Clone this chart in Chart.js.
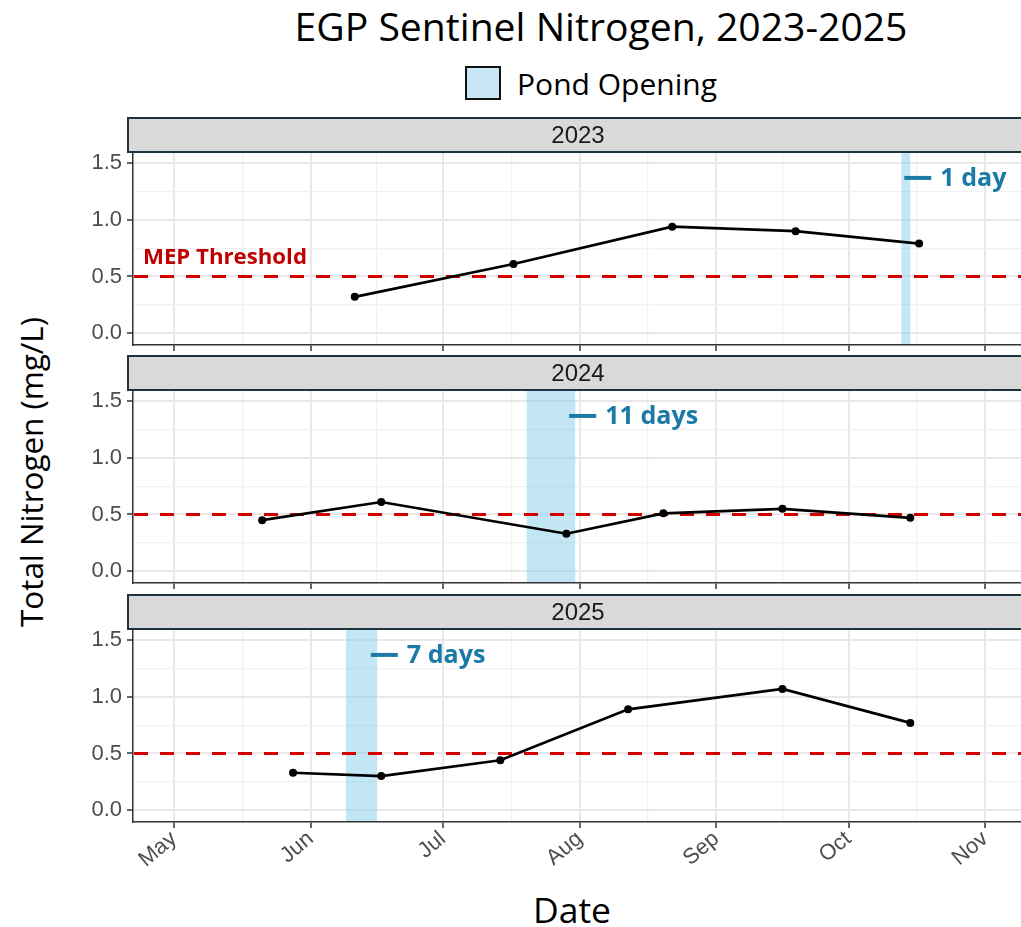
<!DOCTYPE html>
<html>
<head>
<meta charset="utf-8">
<script src="https://cdn.jsdelivr.net/npm/chart.js@4.4.0/dist/chart.umd.min.js"></script>
<style>
  body { margin: 0; background: #fff; }
  #page { position: relative; width: 1021px; height: 927px; overflow: hidden; background: #fff; }
  .txt { position: absolute; white-space: nowrap; color: #000; line-height: 1; }
  #legBox { position: absolute; left: 465px; top: 66px; width: 36px; height: 34px; box-sizing: border-box;
            border: 2px solid #111; background: #c8e7f5; }
  canvas.panel { position: absolute; left: 0; }
</style>
</head>
<body>
<div id="page">
  <div id="title" class="txt">EGP Sentinel Nitrogen, 2023-2025</div>
  <div id="legBox"></div>
  <div id="legText" class="txt">Pond Opening</div>
  <div id="yTitle" class="txt">Total Nitrogen (mg/L)</div>
  <div id="xTitle" class="txt">Date</div>
  <canvas id="c2023" class="panel"></canvas>
  <canvas id="c2024" class="panel"></canvas>
  <canvas id="c2025" class="panel"></canvas>
</div>
<script>
// data (dates as MM-DD, nitrogen in mg/L)
const years = ['2023', '2024', '2025'];
const dates2023 = ['06-11', '07-17', '08-22', '09-19', '10-17'];
const tn2023 = [0.32, 0.61, 0.94, 0.90, 0.79];
const dates2024 = ['05-21', '06-17', '07-29', '08-20', '09-16', '10-15'];
const tn2024 = [0.45, 0.61, 0.33, 0.51, 0.55, 0.47];
const dates2025 = ['05-28', '06-17', '07-14', '08-12', '09-16', '10-15'];
const tn2025 = [0.33, 0.30, 0.44, 0.89, 1.07, 0.77];

// pond opening periods
const openStart = ['10-13', '07-20', '06-09'];
const openEnd = ['10-15', '07-31', '06-16'];
const openLabels = ['1 day', '11 days', '7 days'];

const threshold = 0.5;
const monthLabels = ['May', 'Jun', 'Jul', 'Aug', 'Sep', 'Oct', 'Nov'];
const monthStarts = ['05-01', '06-01', '07-01', '08-01', '09-01', '10-01', '11-01'];
const yTickValues = [0, 0.5, 1.0, 1.5];

const panelDates = [dates2023, dates2024, dates2025];
const panelValues = [tn2023, tn2024, tn2025];

// layout
const panelTops = [117, 355, 594];
const STRIP_H = 36;
const PLOT_H = 192;
const STRIP_LEFT = 128;
const CANVAS_W = 1040;
const X_MIN = 111.7, X_MAX = 314.7;
const Y_MIN = -0.105, Y_MAX = 1.59;

const cumDays = [0, 31, 59, 90, 120, 151, 181, 212, 243, 273, 304, 334];
function dayOfYear(mmdd) {
    const [m, d] = mmdd.split('-').map(Number);
    return cumDays[m - 1] + d;
}

const majorX = monthStarts.map(dayOfYear);
const minorX = majorX.slice(1).map((v, k) => (v + majorX[k]) / 2);
const allX = majorX.concat(minorX).sort((a, b) => a - b);
const minorY = yTickValues.slice(1).map((v, k) => (v + yTickValues[k]) / 2);
const allY = yTickValues.concat(minorY).sort((a, b) => a - b);

const isMajorX = v => majorX.includes(v);
const isMajorY = v => yTickValues.some(t => Math.abs(t - v) < 1e-9);

// measure text so the html titles get the same width as in the picture
const meas = document.createElement('canvas').getContext('2d');
function fitSize(text, weight, family, width) {
    meas.font = weight + ' 100px ' + family;
    return 100 * width / meas.measureText(text).width;
}
function placeText(id, cx, cy, width, weight, family, rotate) {
    const el = document.getElementById(id);
    const size = fitSize(el.textContent, weight, family, width);
    el.style.font = weight + ' ' + size.toFixed(2) + 'px ' + family;
    el.style.left = cx + 'px';
    el.style.top = cy + 'px';
    el.style.transform = 'translate(-50%, -50%)' + (rotate ? ' rotate(-90deg)' : '');
}

const SANS = '"Open Sans", sans-serif';
const TICK_FONT = { family: '"Liberation Sans", Arial, sans-serif', size: 22 };
placeText('title', 601, 25, 613, 'normal', SANS);
placeText('legText', 617, 83, 200, 'normal', SANS);
placeText('yTitle', 30, 472, 310, 'normal', SANS, true);
placeText('xTitle', 572, 909, 78, 'normal', SANS);

const labelFont = fitSize('11 days', 'bold', SANS, 93);
const mepFont = fitSize('MEP Threshold', 'bold', SANS, 164);

// strip header, pond opening band, threshold line and labels
const panelDecor = {
    id: 'panelDecor',
    beforeDraw(chart, args, opts) {
        const ctx = chart.ctx, a = chart.chartArea;
        const top = a.top - STRIP_H;
        ctx.save();
        ctx.fillStyle = '#d9d9d9';
        ctx.fillRect(STRIP_LEFT, top + 1, chart.width, STRIP_H - 2);
        ctx.strokeStyle = '#1e3340';
        ctx.lineWidth = 2;
        ctx.strokeRect(STRIP_LEFT, top + 1, chart.width, STRIP_H - 2);
        ctx.fillStyle = '#1a1a1a';
        ctx.font = '24px "Liberation Sans", Arial, sans-serif';
        ctx.textAlign = 'center';
        ctx.textBaseline = 'middle';
        ctx.fillText(years[opts.index], (STRIP_LEFT + a.right) / 2, top + STRIP_H / 2 + 1);
        ctx.restore();
    },
    beforeDatasetsDraw(chart, args, opts) {
        const i = opts.index;
        const ctx = chart.ctx, a = chart.chartArea;
        const xs = chart.scales.x, ys = chart.scales.y;
        ctx.save();
        // pond opening
        const x0 = xs.getPixelForValue(dayOfYear(openStart[i]));
        const x1 = xs.getPixelForValue(dayOfYear(openEnd[i]));
        ctx.fillStyle = 'rgba(135, 206, 235, 0.5)';
        ctx.fillRect(x0, a.top, x1 - x0, a.bottom - a.top - 1);
        // threshold
        const ty = ys.getPixelForValue(threshold);
        ctx.strokeStyle = '#d40000';
        ctx.lineWidth = 3;
        ctx.setLineDash([14, 12]);
        ctx.beginPath();
        ctx.moveTo(a.left + 1, ty);
        ctx.lineTo(a.right, ty);
        ctx.stroke();
        ctx.setLineDash([]);
        if (i === 0) {
            ctx.fillStyle = '#c00000';
            ctx.font = 'bold ' + mepFont.toFixed(2) + 'px ' + SANS;
            ctx.textBaseline = 'alphabetic';
            ctx.fillText('MEP Threshold', a.left + 10, ty - 12);
        }
        ctx.restore();
    },
    afterDatasetsDraw(chart, args, opts) {
        const i = opts.index;
        const ctx = chart.ctx;
        const xs = chart.scales.x, ys = chart.scales.y;
        const xe = xs.getPixelForValue(dayOfYear(openEnd[i]));
        const ly = ys.getPixelForValue(1.37);
        ctx.save();
        ctx.strokeStyle = '#1b7ba6';
        ctx.fillStyle = '#1b7ba6';
        ctx.lineWidth = 4;
        ctx.beginPath();
        ctx.moveTo(xe - 6, ly);
        ctx.lineTo(xe + 21, ly);
        ctx.stroke();
        ctx.font = 'bold ' + labelFont.toFixed(2) + 'px ' + SANS;
        ctx.textBaseline = 'middle';
        ctx.fillText(openLabels[i], xe + 30, ly + 1);
        ctx.restore();
    }
};

function makePanel(i) {
    const isBottom = i === years.length - 1;
    const canvas = document.getElementById('c' + years[i]);
    const h = STRIP_H + PLOT_H + (isBottom ? 80 : 8);
    canvas.width = CANVAS_W;
    canvas.height = h;
    canvas.style.width = CANVAS_W + 'px';
    canvas.style.height = h + 'px';
    canvas.style.top = panelTops[i] + 'px';

    const points = panelDates[i].map((d, k) => ({ x: dayOfYear(d), y: panelValues[i][k] }));

    new Chart(canvas, {
        type: 'line',
        data: {
            datasets: [{
                data: points,
                borderColor: '#000',
                borderWidth: 2.7,
                pointRadius: 4,
                pointBackgroundColor: '#000',
                pointBorderWidth: 0,
                tension: 0
            }]
        },
        options: {
            responsive: false,
            animation: false,
            devicePixelRatio: 1,
            layout: { padding: { top: STRIP_H, right: CANVAS_W - 1028, left: 0, bottom: 0 } },
            plugins: {
                legend: { display: false },
                tooltip: { enabled: false },
                panelDecor: { index: i }
            },
            scales: {
                x: {
                    type: 'linear',
                    min: X_MIN,
                    max: X_MAX,
                    afterBuildTicks: s => { s.ticks = allX.map(v => ({ value: v })); },
                    afterFit: s => {
                        s.height = h - STRIP_H - PLOT_H;
                        s.paddingLeft = 0;
                        s.paddingRight = 0;
                    },
                    grid: {
                        color: c => (c.tick && isMajorX(c.tick.value)) ? '#e8e8e8' : '#f1f1f1',
                        lineWidth: c => (c.tick && isMajorX(c.tick.value)) ? 2 : 1.2,
                        tickColor: c => (c.tick && isMajorX(c.tick.value)) ? '#333' : 'rgba(0,0,0,0)',
                        tickWidth: 1.5,
                        tickLength: 6
                    },
                    border: { display: true, color: '#333', width: 1.5 },
                    ticks: {
                        display: isBottom,
                        autoSkip: false,
                        minRotation: 40,
                        maxRotation: 40,
                        padding: -2,
                        color: '#4d4d4d',
                        font: TICK_FONT,
                        callback: v => isMajorX(v) ? monthLabels[majorX.indexOf(v)] : ''
                    }
                },
                y: {
                    type: 'linear',
                    min: Y_MIN,
                    max: Y_MAX,
                    afterBuildTicks: s => { s.ticks = allY.map(v => ({ value: v })); },
                    afterFit: s => {
                        s.width = 133;
                        s.paddingTop = 0;
                        s.paddingBottom = 0;
                    },
                    grid: {
                        color: c => (c.tick && isMajorY(c.tick.value)) ? '#e8e8e8' : '#f1f1f1',
                        lineWidth: c => (c.tick && isMajorY(c.tick.value)) ? 2 : 1.2,
                        tickColor: c => (c.tick && isMajorY(c.tick.value)) ? '#333' : 'rgba(0,0,0,0)',
                        tickWidth: 1.5,
                        tickLength: 6
                    },
                    border: { display: true, color: '#333', width: 1.5 },
                    ticks: {
                        autoSkip: false,
                        padding: 5,
                        color: '#4d4d4d',
                        font: TICK_FONT,
                        callback: v => isMajorY(v) ? v.toFixed(1) : ''
                    }
                }
            }
        },
        plugins: [panelDecor]
    });
}

years.forEach((y, i) => makePanel(i));
</script>
</body>
</html>
